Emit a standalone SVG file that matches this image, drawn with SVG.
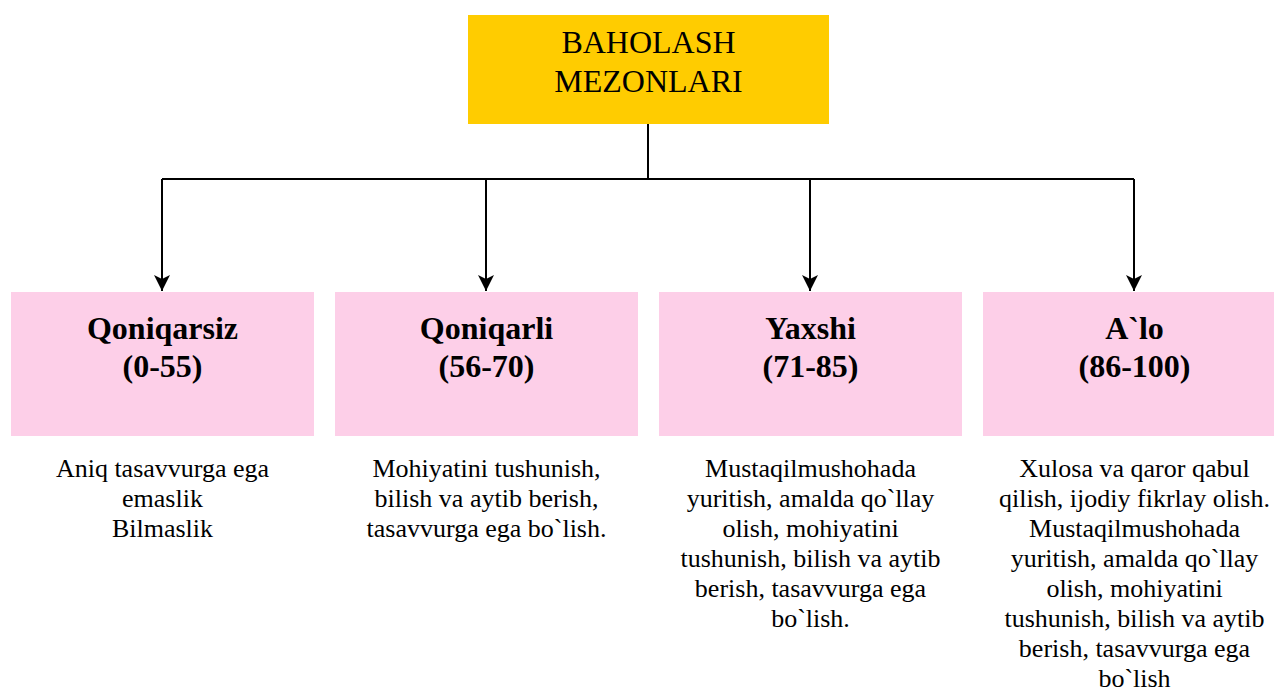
<svg xmlns="http://www.w3.org/2000/svg" width="1274" height="693" viewBox="0 0 1274 693">
<defs>
<style>
.root{fill:#FFCC00}
.box{fill:#FDCFE8}
.t{font-family:"Liberation Serif","Times New Roman",serif;fill:#000;text-anchor:middle}
.h{font-size:32px}
.b{font-size:32px;font-weight:bold}
.d{font-size:26px}
.ln{stroke:#000;stroke-width:2;fill:none}
</style>
<marker id="ah" markerUnits="userSpaceOnUse" markerWidth="18" markerHeight="18" viewBox="0 0 18 18" refX="16" refY="8" orient="auto">
<path d="M0,0 L16,8 L0,16 L4,8 z" fill="#000"/>
</marker>
</defs>
<rect width="1274" height="693" fill="#fff"/>
<g id="root">
<rect class="root" x="468" y="15" width="361" height="109"/>
<text class="t h" x="648.5" y="53">BAHOLASH</text>
<text class="t h" x="648.5" y="92">MEZONLARI</text>
</g>
<g id="connectors">
<path class="ln" d="M648,124 V179"/>
<path class="ln" d="M162,179 H1134"/>
<path class="ln" d="M162,179 V291" marker-end="url(#ah)"/>
<path class="ln" d="M486,179 V291" marker-end="url(#ah)"/>
<path class="ln" d="M810,179 V291" marker-end="url(#ah)"/>
<path class="ln" d="M1134,179 V291" marker-end="url(#ah)"/>
</g>
<g id="n1">
<rect class="box" x="11" y="292" width="303" height="144"/>
<text class="t b" x="162.5" y="339">Qoniqarsiz</text>
<text class="t b" x="162.5" y="377">(0-55)</text>
<text class="t d" x="162.5" y="477">Aniq tasavvurga ega</text>
<text class="t d" x="162.5" y="507">emaslik</text>
<text class="t d" x="162.5" y="537">Bilmaslik</text>
</g>
<g id="n2">
<rect class="box" x="335" y="292" width="303" height="144"/>
<text class="t b" x="486.5" y="339">Qoniqarli</text>
<text class="t b" x="486.5" y="377">(56-70)</text>
<text class="t d" x="486.5" y="477">Mohiyatini tushunish,</text>
<text class="t d" x="486.5" y="507">bilish va aytib berish,</text>
<text class="t d" x="486.5" y="537">tasavvurga ega bo`lish.</text>
</g>
<g id="n3">
<rect class="box" x="659" y="292" width="303" height="144"/>
<text class="t b" x="810.5" y="339">Yaxshi</text>
<text class="t b" x="810.5" y="377">(71-85)</text>
<text class="t d" x="810.5" y="477">Mustaqilmushohada</text>
<text class="t d" x="810.5" y="507">yuritish, amalda qo`llay</text>
<text class="t d" x="810.5" y="537">olish, mohiyatini</text>
<text class="t d" x="810.5" y="567">tushunish, bilish va aytib</text>
<text class="t d" x="810.5" y="597">berish, tasavvurga ega</text>
<text class="t d" x="810.5" y="627">bo`lish.</text>
</g>
<g id="n4">
<rect class="box" x="983" y="292" width="303" height="144"/>
<text class="t b" x="1134.5" y="339">A`lo</text>
<text class="t b" x="1134.5" y="377">(86-100)</text>
<text class="t d" x="1134.5" y="477">Xulosa va qaror qabul</text>
<text class="t d" x="1134.5" y="507">qilish, ijodiy fikrlay olish.</text>
<text class="t d" x="1134.5" y="537">Mustaqilmushohada</text>
<text class="t d" x="1134.5" y="567">yuritish, amalda qo`llay</text>
<text class="t d" x="1134.5" y="597">olish, mohiyatini</text>
<text class="t d" x="1134.5" y="627">tushunish, bilish va aytib</text>
<text class="t d" x="1134.5" y="657">berish, tasavvurga ega</text>
<text class="t d" x="1134.5" y="687">bo`lish</text>
</g>
</svg>
